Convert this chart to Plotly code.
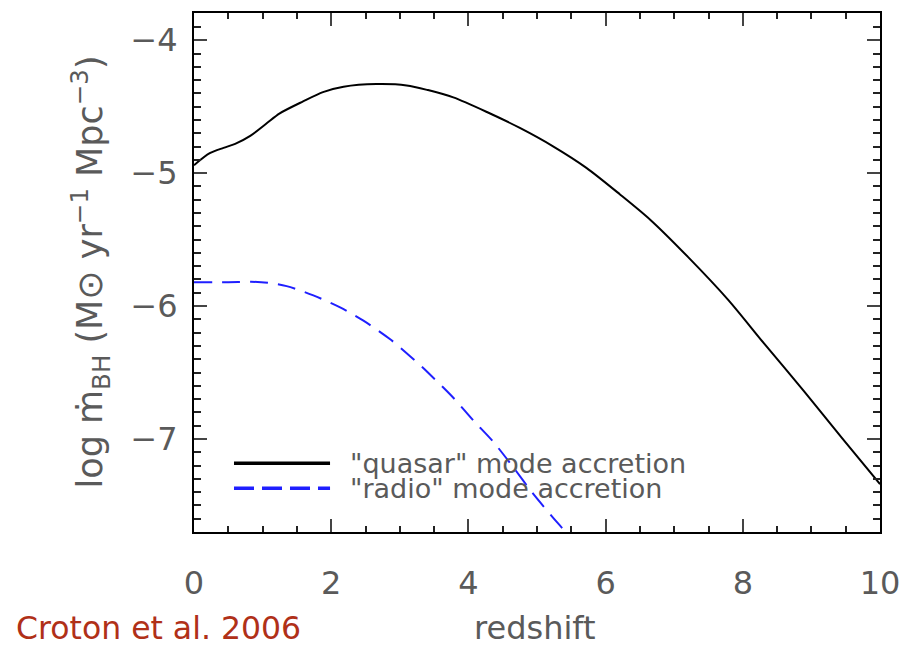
import plotly.graph_objects as go

# Black hole accretion rate density vs redshift (Croton et al. 2006)
quasar_z = [0.0, 0.23, 0.43, 0.6, 0.82, 1.06, 1.25, 1.59, 1.88, 2.18, 2.66, 3.1,
            3.41, 3.78, 4.27, 4.75, 5.24, 5.72, 6.21, 6.65, 7.2, 7.79, 8.3, 8.9,
            9.45, 10.0]
quasar_rate = [-4.94, -4.85, -4.81, -4.78, -4.72, -4.625, -4.55, -4.46, -4.39,
               -4.35, -4.33, -4.34, -4.375, -4.43, -4.54, -4.66, -4.80, -4.96,
               -5.16, -5.35, -5.63, -5.955, -6.275, -6.645, -6.995, -7.34]

radio_z = [0.0, 0.5, 0.98, 1.35, 1.74, 2.13, 2.47, 2.86, 3.2, 3.41, 3.78, 4.07,
           4.36, 4.65, 4.94, 5.23, 5.43, 5.6]
radio_rate = [-5.82, -5.82, -5.82, -5.85, -5.92, -6.01, -6.11, -6.25, -6.40,
              -6.50, -6.69, -6.86, -7.02, -7.21, -7.41, -7.59, -7.71, -7.84]

legend_labels = ['"quasar" mode accretion', '"radio" mode accretion']

x_range = [0, 10]
y_range = [-7.70, -3.795]

FONT = "DejaVu Sans"
GREY = "#5a5a5a"
BLUE = "#1f1fff"

fig = go.Figure()
fig.add_trace(go.Scatter(x=quasar_z, y=quasar_rate, mode="lines",
                         line=dict(color="black", width=2, shape="spline",
                                   smoothing=0.8),
                         name=legend_labels[0], showlegend=False))
fig.add_trace(go.Scatter(x=radio_z, y=radio_rate, mode="lines",
                         line=dict(color=BLUE, width=2, dash="18px,10px",
                                   shape="spline", smoothing=0.8),
                         name=legend_labels[1], showlegend=False))

axis_common = dict(
    showgrid=False, zeroline=False, showline=True, linecolor="black",
    linewidth=2, mirror="allticks", ticks="inside", tickcolor="#444",
    tickwidth=1.5, tickfont=dict(family=FONT, size=32, color=GREY),
)

fig.update_xaxes(range=x_range, dtick=2, tick0=0, ticklen=13,
                 ticklabelstandoff=22,
                 minor=dict(ticks="inside", dtick=0.5, ticklen=6,
                            tickcolor="#222", tickwidth=1.5),
                 **axis_common)
fig.update_yaxes(range=y_range, dtick=1, tick0=-4, ticklen=13,
                 ticklabelstandoff=8,
                 minor=dict(ticks="inside", dtick=0.1, ticklen=7,
                            tickcolor="#222", tickwidth=1.5),
                 **axis_common)

# Hand-drawn legend: sample lines plus labels inside the lower-left corner
legend_y = [0.1324, 0.0845]
fig.add_shape(type="line", xref="paper", yref="paper", x0=0.0583, x1=0.1983,
              y0=legend_y[0], y1=legend_y[0], line=dict(color="black", width=3.5))
fig.add_shape(type="line", xref="paper", yref="paper", x0=0.0583, x1=0.1983,
              y0=legend_y[1], y1=legend_y[1],
              line=dict(color=BLUE, width=3.5, dash="20px,8px"))
for label, ly in zip(legend_labels, legend_y):
    fig.add_annotation(text=label, xref="paper", yref="paper", x=0.2245, y=ly,
                       xanchor="left", yanchor="middle", showarrow=False,
                       font=dict(family=FONT, size=27, color=GREY))

fig.add_annotation(
    text="log ṁ<sub>BH</sub> (M⊙ yr<sup>−1</sup> Mpc<sup>−3</sup>)",
    xref="paper", yref="paper", x=-0.1516, y=0.5, textangle=-90,
    xanchor="center", yanchor="middle", showarrow=False,
    font=dict(family=FONT, size=35, color=GREY))
fig.add_annotation(text="redshift", xref="paper", yref="paper", x=0.497,
                   y=-0.185, xanchor="center", yanchor="middle", showarrow=False,
                   font=dict(family=FONT, size=32, color=GREY))
fig.add_annotation(text="Croton et al. 2006", xref="paper", yref="paper",
                   x=-0.262, y=-0.185, xanchor="left", yanchor="middle",
                   showarrow=False,
                   font=dict(family=FONT, size=31.5, color="#b03018"))

fig.update_layout(width=920, height=647, margin=dict(l=194, r=40, t=11, b=115),
                  plot_bgcolor="white", paper_bgcolor="white", showlegend=False)

fig.write_html("out.html")
